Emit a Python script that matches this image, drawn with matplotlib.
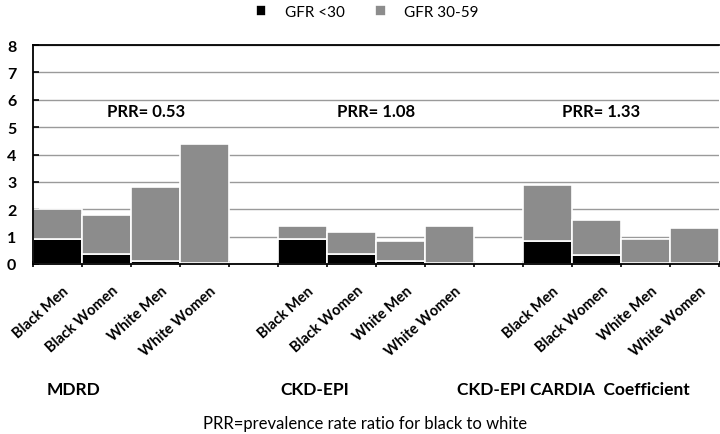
import numpy as np
import matplotlib
matplotlib.use("Agg")
import matplotlib.pyplot as plt

plt.rcParams['font.family'] = ['Lato', 'DejaVu Sans']

groups = ["MDRD", "CKD-EPI", "CKD-EPI CARDIA  Coefficient"]
subgroups = ["Black Men", "Black Women", "White Men", "White Women"]
prr = ["PRR= 0.53", "PRR= 1.08", "PRR= 1.33"]

# totals (GFR <30 + GFR 30-59) and GFR <30 part, per group
total = [[2.0, 1.78, 2.8, 4.4],
         [1.4, 1.17, 0.84, 1.39],
         [2.88, 1.62, 0.91, 1.31]]
low = [[0.92, 0.38, 0.12, 0.05],
       [0.92, 0.36, 0.12, 0.03],
       [0.84, 0.33, 0.05, 0.02]]

fig = plt.figure(figsize=(7.2, 4.35), dpi=100)
ax = fig.add_axes([33 / 720, 1 - 265 / 435, 686 / 720, 219 / 435])

xpos, labels = [], []
for g in range(3):
    for i in range(4):
        xpos.append(g * 5 + i + 0.5)
        labels.append(subgroups[i])
xpos = np.array(xpos)
lo = np.array(low).ravel()
hi = np.array(total).ravel() - lo

ax.bar(xpos, lo, width=1.0, color='#000000', edgecolor='white', linewidth=1.2,
       label='GFR <30', zorder=2)
ax.bar(xpos, hi, bottom=lo, width=1.0, color='#8c8c8c', edgecolor='white',
       linewidth=1.2, label='GFR 30-59', zorder=2)

ax.set_xlim(0, 14)
ax.set_ylim(0, 8)
ax.set_yticks(range(9))
for t in ax.get_yticklabels():
    t.set_fontweight('bold')
    t.set_fontsize(11.5)
ax.yaxis.grid(True, color='#9a9a9a', linewidth=1.0, zorder=0)
ax.set_axisbelow(True)

ax.set_xticks(np.arange(0, 15))
ax.set_xticklabels([])
ax.tick_params(axis='x', length=5, width=1.2, direction='inout')
ax.tick_params(axis='y', length=4, width=1.2, direction='in', pad=12)
ax.spines['right'].set_visible(False)
for s in ['left', 'bottom', 'top']:
    ax.spines[s].set_linewidth(1.3)

for x, lab in zip(xpos, labels):
    ax.text(x + 0.1, -0.7, lab, rotation=42, ha='right', va='top',
            rotation_mode='anchor', fontsize=10.5, fontweight='bold')

prr_x = [2.3, 7.0, 11.6]
for cx, p in zip(prr_x, prr):
    ax.text(cx, 5.6, p, ha='center', va='center', fontsize=12, fontweight='bold')

grp_px = [73, 315, 573]
for gx, g in zip(grp_px, groups):
    fig.text(gx / 720, 1 - 390 / 435, g, ha='center', va='center',
             fontsize=12.5, fontweight='bold')

fig.text(365 / 720, 1 - 424 / 435, "PRR=prevalence rate ratio for black to white",
         ha='center', va='center', fontsize=12)

fig.legend(loc='center', bbox_to_anchor=(0.51, 1 - 13 / 435), ncol=2,
           frameon=False, fontsize=11, handlelength=0.7, handleheight=0.7,
           columnspacing=2.0, handletextpad=1.2)

fig.savefig("out.png", dpi=100)
